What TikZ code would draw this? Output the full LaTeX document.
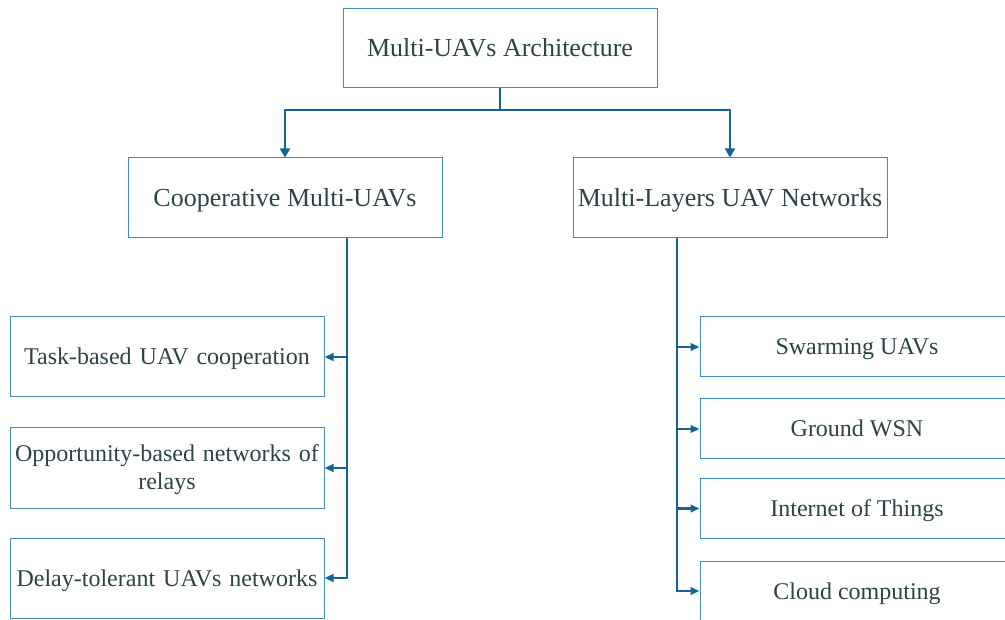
\documentclass[tikz,border=0pt]{standalone}
\usepackage{fontspec}
\setmainfont{Liberation Serif}
\usetikzlibrary{arrows.meta}
\definecolor{linkblue}{RGB}{20,100,152}
\definecolor{boxblue}{RGB}{62,138,186}
\definecolor{textgray}{RGB}{44,68,70}
\tikzset{
  box/.style={draw=boxblue, line width=1pt, fill=white, text=textgray,
    minimum width=314pt, align=center, inner sep=2pt},
  headbox/.style={box, minimum height=80pt, text height=17pt, text depth=0pt,
    font=\fontsize{26}{30}\selectfont},
  leafbox/.style={box, minimum height=80pt, text width=306pt, text height=16pt,
    text depth=0pt, font=\fontsize{24}{28}\selectfont},
  twoline/.style={text depth=28pt},
  slimbox/.style={box, minimum height=60pt, text height=16pt, text depth=0pt,
    font=\fontsize{24}{28}\selectfont},
  conn/.style={draw=linkblue, line width=2.3pt},
  downarrow/.style={conn, -{Triangle[length=9pt,width=10pt]}},
  sidearrow/.style={conn, -{Triangle[length=9pt,width=7.5pt]}}
}
\begin{document}
\begin{tikzpicture}[x=1pt, y=-1pt]
  \useasboundingbox (0,0) rectangle (1005,620);
  \clip (0,0) rectangle (1005,620);
  \fill[white] (0,0) rectangle (1005,620);

  % root and the two branches
  \node[headbox, minimum height=79pt] (root) at (500,48.5) {Multi-UAVs Architecture};
  \node[headbox] (coop)  at (285,198) {Cooperative Multi-UAVs};
  \node[headbox] (layer) at (730,198) {Multi-Layers UAV Networks};

  % cooperative leaves
  \node[leafbox] (task)  at (167,357) {Task-based UAV cooperation};
  \node[leafbox, twoline] (opp) at (167,468) {Opportunity-based networks of\\relays};
  \node[leafbox] (delay) at (167,578) {Delay-tolerant UAVs networks};

  % multi-layer leaves
  \node[slimbox] (swarm) at (857,347)   {Swarming UAVs};
  \node[slimbox] (wsn)   at (857,429)   {Ground WSN};
  \node[slimbox] (iot)   at (857,508.5) {Internet of Things};
  \node[slimbox] (cloud) at (857,591)   {Cloud computing};

  % root split
  \coordinate (bus) at (500,110);
  \draw[conn] (root.south) -- (bus);
  \draw[downarrow] (bus) -| (coop.north);
  \draw[downarrow] (bus) -| (layer.north);

  % left trunk
  \coordinate (lt) at ([xshift=62pt]coop.south);
  \draw[sidearrow] (lt) |- (delay.east);
  \draw[sidearrow] (lt |- task.east) -- (task.east);
  \draw[sidearrow] (lt |- opp.east) -- (opp.east);

  % right trunk
  \coordinate (rt) at ([xshift=-53pt]layer.south);
  \draw[sidearrow] (rt) |- (cloud.west);
  \draw[sidearrow] (rt |- swarm.west) -- (swarm.west);
  \draw[sidearrow] (rt |- wsn.west) -- (wsn.west);
  \draw[sidearrow] (rt |- iot.west) -- (iot.west);
\end{tikzpicture}
\end{document}
